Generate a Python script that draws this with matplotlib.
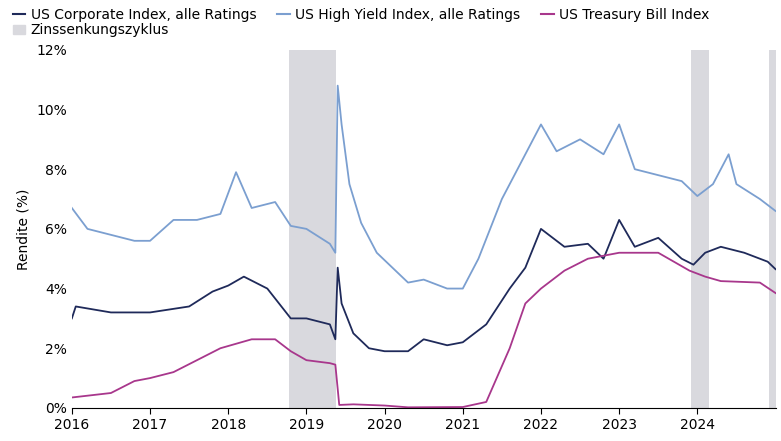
import matplotlib.pyplot as plt
from matplotlib.patches import Patch
from matplotlib.lines import Line2D

corp_x = [2016.0,2016.05,2016.5,2016.9,2017.0,2017.5,2017.8,2018.0,2018.2,2018.5,2018.8,2019.0,2019.3,2019.37,2019.4,2019.45,2019.6,2019.8,2020.0,2020.3,2020.5,2020.8,2021.0,2021.3,2021.6,2021.8,2022.0,2022.3,2022.6,2022.8,2023.0,2023.2,2023.5,2023.8,2023.95,2024.1,2024.3,2024.6,2024.9,2025.0]
corp_y = [3.0,3.4,3.2,3.2,3.2,3.4,3.9,4.1,4.4,4.0,3.0,3.0,2.8,2.3,4.7,3.5,2.5,2.0,1.9,1.9,2.3,2.1,2.2,2.8,4.0,4.7,6.0,5.4,5.5,5.0,6.3,5.4,5.7,5.0,4.8,5.2,5.4,5.2,4.9,4.65]

hy_x = [2016.0,2016.2,2016.5,2016.8,2017.0,2017.3,2017.6,2017.9,2018.1,2018.3,2018.6,2018.8,2019.0,2019.3,2019.37,2019.4,2019.45,2019.55,2019.7,2019.9,2020.1,2020.3,2020.5,2020.8,2021.0,2021.2,2021.5,2021.8,2022.0,2022.2,2022.5,2022.8,2023.0,2023.2,2023.5,2023.8,2024.0,2024.2,2024.4,2024.5,2024.8,2025.0]
hy_y = [6.7,6.0,5.8,5.6,5.6,6.3,6.3,6.5,7.9,6.7,6.9,6.1,6.0,5.5,5.2,10.8,9.5,7.5,6.2,5.2,4.7,4.2,4.3,4.0,4.0,5.0,7.0,8.5,9.5,8.6,9.0,8.5,9.5,8.0,7.8,7.6,7.1,7.5,8.5,7.5,7.0,6.6]

tb_x = [2016.0,2016.5,2016.8,2017.0,2017.3,2017.6,2017.9,2018.3,2018.6,2018.8,2019.0,2019.3,2019.37,2019.42,2019.6,2020.0,2020.3,2021.0,2021.3,2021.6,2021.8,2022.0,2022.3,2022.6,2023.0,2023.5,2023.9,2024.1,2024.3,2024.8,2025.0]
tb_y = [0.35,0.5,0.9,1.0,1.2,1.6,2.0,2.3,2.3,1.9,1.6,1.5,1.45,0.1,0.12,0.08,0.02,0.03,0.2,2.0,3.5,4.0,4.6,5.0,5.2,5.2,4.6,4.4,4.25,4.2,3.85]

cuts = [(2018.78, 2019.38), (2023.92, 2024.15), (2024.92, 2025.0)]
years = list(range(2016, 2025))

c_corp, c_hy, c_tb, c_sh = '#1f2a5a', '#7b9fd0', '#a8378c', '#d9d9de'

fig, ax = plt.subplots(figsize=(7.81, 4.41), dpi=100)
fig.subplots_adjust(left=0.092, right=0.993, top=0.887, bottom=0.075)
for a, b in cuts:
    ax.axvspan(a, b, color=c_sh, lw=0)
ax.plot(corp_x, corp_y, color=c_corp, lw=1.3)
ax.plot(hy_x, hy_y, color=c_hy, lw=1.3)
ax.plot(tb_x, tb_y, color=c_tb, lw=1.3)
ax.set_xlim(2016, 2025.0)
ax.set_ylim(0, 12)
ax.set_xticks(years)
ax.set_xticklabels([str(y) for y in years])
ax.set_yticks(range(0, 13, 2))
ax.set_yticklabels([f'{v}%' for v in range(0, 13, 2)])
ax.set_ylabel('Rendite (%)')
for s in ['top', 'right', 'left']:
    ax.spines[s].set_visible(False)
ax.tick_params(axis='y', length=0)
ax.tick_params(axis='x', length=4)
handles = [Line2D([], [], color=c_corp, lw=1.5), Patch(color=c_sh),
           Line2D([], [], color=c_hy, lw=1.5), Line2D([], [], color=c_tb, lw=1.5)]
labels = ['US Corporate Index, alle Ratings', 'Zinssenkungszyklus',
          'US High Yield Index, alle Ratings', 'US Treasury Bill Index']
fig.legend(handles, labels, loc='upper left', bbox_to_anchor=(0.0, 1.01), ncol=3,
           frameon=False, fontsize=10, handlelength=0.9, columnspacing=1.5, handletextpad=0.4,
           labelspacing=0.1)
fig.savefig('out.png')
